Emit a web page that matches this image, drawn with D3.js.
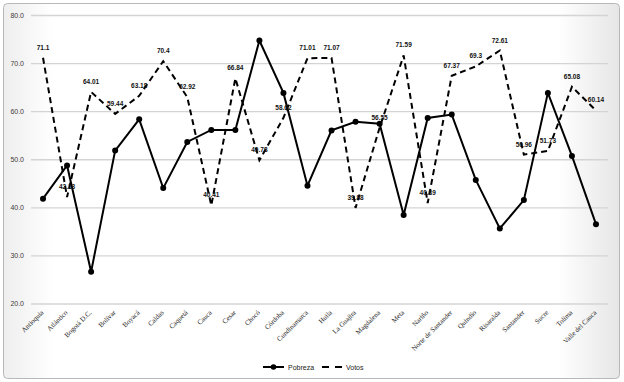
<!DOCTYPE html>
<html>
<head>
<meta charset="utf-8">
<script src="https://cdn.jsdelivr.net/npm/d3@7"></script>
<style>
  body { margin: 0; background: #fff; }
  svg { display: block; }
</style>
</head>
<body>
<div id="chart"></div>
<script>
var width = 624, height = 382
var margin = {top: 15, right: 16, bottom: 78, left: 31}

// data
var departamentos = ["Antioquia", "Atlántico", "Bogotá D.C.", "Bolívar", "Boyacá", "Caldas", "Caquetá", "Cauca", "Cesar", "Chocó", "Córdoba", "Cundinamarca", "Huila", "La Guajira", "Magdalena", "Meta", "Nariño", "Norte de Santander", "Quindío", "Risaralda", "Santander", "Sucre", "Tolima", "Valle del Cauca"]
var pobreza = [41.8, 48.7, 26.6, 51.8, 58.3, 44.0, 53.6, 56.1, 56.1, 74.7, 63.8, 44.5, 56.0, 57.8, 57.4, 38.4, 58.6, 59.3, 45.7, 35.6, 41.5, 63.8, 50.7, 36.5]
var votos = [71.1, 42.13, 64.01, 59.44, 63.18, 70.4, 62.92, 40.41, 66.84, 49.78, 58.62, 71.01, 71.07, 39.88, 56.55, 71.59, 40.89, 67.37, 69.3, 72.61, 50.96, 51.73, 65.08, 60.14]
var yTicks = [20, 30, 40, 50, 60, 70, 80]

var svg = d3.select("#chart")
  .append("svg")
  .attr("width", width)
  .attr("height", height)

// background frame
var defs = svg.append("defs")
var grad = defs.append("linearGradient")
  .attr("id", "bg")
  .attr("x1", "0").attr("x2", "1").attr("y1", "0").attr("y2", "0")
grad.append("stop").attr("offset", "0%").attr("stop-color", "#eeeeee")
grad.append("stop").attr("offset", "8%").attr("stop-color", "#ffffff")
grad.append("stop").attr("offset", "90%").attr("stop-color", "#ffffff")
grad.append("stop").attr("offset", "100%").attr("stop-color", "#e6e6e6")

svg.append("rect")
  .attr("x", 3.5)
  .attr("y", 3.5)
  .attr("width", width - 8)
  .attr("height", height - 7)
  .attr("rx", 4)
  .attr("fill", "url(#bg)")
  .attr("stroke", "#b8b8b8")
  .attr("stroke-width", 1)

// scales
var xScale = d3.scaleBand()
  .domain(departamentos)
  .range([margin.left, width - margin.right])

var yScale = d3.scaleLinear()
  .domain([20, 80])
  .range([height - margin.bottom - 0.5, margin.top])

var cx = d => xScale(d) + xScale.bandwidth() / 2

// grid
var yGrid = d3.axisLeft(yScale)
  .tickValues(yTicks)
  .tickSize(-(width - margin.left - margin.right))
  .tickFormat(d => d3.format(".1f")(d))

svg.append("g")
  .attr("class", "grid")
  .attr("transform", `translate(${margin.left},0)`)
  .call(yGrid)
  .call(g => g.select(".domain").remove())
  .call(g => g.selectAll("line").attr("stroke", "#d4d4d4").attr("stroke-width", 1.3))
  .call(g => g.selectAll("text")
    .attr("x", -7)
    .style("font-family", "'Liberation Sans', Arial, sans-serif")
    .style("font-size", "7px")
    .style("fill", "#404040"))

// x axis labels
var xAxis = d3.axisBottom(xScale).tickSize(0)

svg.append("g")
  .attr("transform", `translate(0,${height - margin.bottom})`)
  .call(xAxis)
  .call(g => g.select(".domain").remove())
  .selectAll("text")
  .attr("y", 0)
  .attr("dy", 0)
  .attr("transform", "translate(1,9) rotate(-45)")
  .style("text-anchor", "end")
  .style("font-family", "'Liberation Serif', 'Times New Roman', serif")
  .style("font-size", "7px")
  .style("fill", "#222")

// lines
var linePobreza = d3.line()
  .x((d, i) => cx(departamentos[i]))
  .y(d => yScale(d))

svg.append("path")
  .datum(votos)
  .attr("d", linePobreza)
  .attr("fill", "none")
  .attr("stroke", "#000")
  .attr("stroke-width", 2)
  .attr("stroke-dasharray", "6,4")

svg.append("path")
  .datum(pobreza)
  .attr("d", linePobreza)
  .attr("fill", "none")
  .attr("stroke", "#000")
  .attr("stroke-width", 2)

svg.selectAll(".dot")
  .data(pobreza)
  .enter()
  .append("circle")
  .attr("class", "dot")
  .attr("cx", (d, i) => cx(departamentos[i]))
  .attr("cy", d => yScale(d))
  .attr("r", 3)
  .attr("fill", "#000")

// votos labels
svg.selectAll(".lbl")
  .data(votos)
  .enter()
  .append("text")
  .attr("class", "lbl")
  .attr("x", (d, i) => cx(departamentos[i]))
  .attr("y", d => yScale(d) - 8)
  .attr("text-anchor", "middle")
  .style("font-family", "'Liberation Sans', Arial, sans-serif")
  .style("font-size", "6.5px")
  .style("font-weight", "bold")
  .style("fill", "#111")
  .text(d => d)

// legend
var legend = svg.append("g")
  .attr("transform", "translate(263,367)")

legend.append("line")
  .attr("x1", 0).attr("x2", 21)
  .attr("stroke", "#000").attr("stroke-width", 2)
legend.append("circle")
  .attr("cx", 10.5).attr("r", 2.8).attr("fill", "#000")
legend.append("text")
  .attr("x", 25).attr("y", 2.5)
  .style("font-family", "'Liberation Sans', Arial, sans-serif")
  .style("font-size", "7px")
  .style("fill", "#222")
  .text("Pobreza")

legend.append("line")
  .attr("x1", 59).attr("x2", 79)
  .attr("stroke", "#000").attr("stroke-width", 2)
  .attr("stroke-dasharray", "7,6")
legend.append("text")
  .attr("x", 83).attr("y", 2.5)
  .style("font-family", "'Liberation Sans', Arial, sans-serif")
  .style("font-size", "7px")
  .style("fill", "#222")
  .text("Votos")
</script>
</body>
</html>
